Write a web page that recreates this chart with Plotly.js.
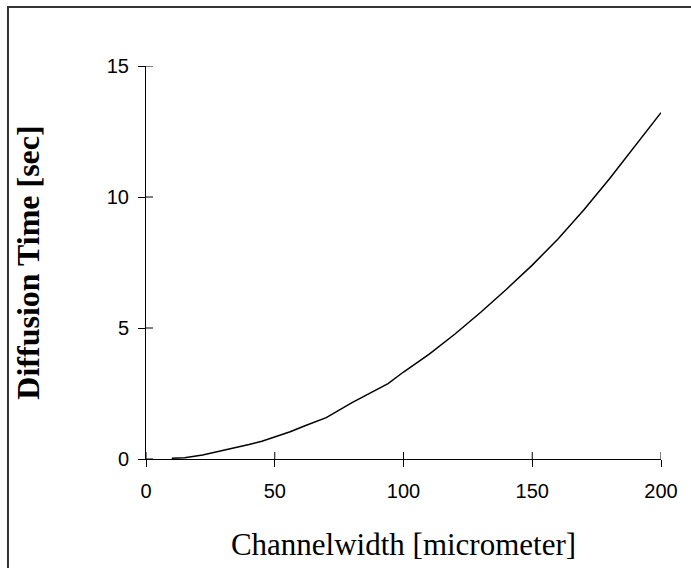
<!DOCTYPE html>
<html>
<head>
<meta charset="utf-8">
<script src="https://cdn.plot.ly/plotly-3.0.1.min.js"></script>
<style>
  html, body { margin: 0; padding: 0; background: #fff; }
  #chart { width: 691px; height: 568px; }
</style>
</head>
<body>
<div id="chart"></div>
<script>
// Channel width (micrometer) and the corresponding diffusion time (sec)
const channelWidth = [10, 15, 22, 30, 40, 45, 56, 62, 70, 80, 94, 100, 110, 120, 130, 140, 150, 160, 170, 180, 190, 200];
const diffusionTime = [0.03, 0.05, 0.15, 0.32, 0.55, 0.68, 1.04, 1.28, 1.58, 2.15, 2.88, 3.32, 4.0, 4.77, 5.6, 6.48, 7.4, 8.4, 9.5, 10.7, 11.97, 13.22];

const xTicks = [0, 50, 100, 150, 200];
const yTicks = [0, 5, 10, 15];

const TICK_LEN = 7;

const trace = {
  x: channelWidth,
  y: diffusionTime,
  type: 'scatter',
  mode: 'lines',
  line: { color: '#000', width: 1.5 },
  hoverinfo: 'skip'
};

const tickFont = { family: 'Liberation Sans, Arial, sans-serif', size: 20, color: '#000' };

// inner halves of the crossing tick marks, placed through the axis scales
const innerTickStyle = { color: '#000', width: 1 };
const innerXTicks = xTicks.map(v => ({
  type: 'line', xref: 'x', yref: 'y',
  x0: v, x1: v,
  ysizemode: 'pixel', yanchor: 0, y0: 0, y1: TICK_LEN,
  line: innerTickStyle
}));
const innerYTicks = yTicks.map(v => ({
  type: 'line', xref: 'x', yref: 'y',
  y0: v, y1: v,
  xsizemode: 'pixel', xanchor: 0, x0: 0, x1: TICK_LEN,
  line: innerTickStyle
}));

// page frame on the left and top edges
const frame = {
  type: 'rect',
  xref: 'paper', yref: 'paper',
  x0: -0.268, x1: 1.3,
  y0: -0.6, y1: 1.150,
  line: { color: '#333', width: 2 },
  fillcolor: 'rgba(0,0,0,0)',
  layer: 'below'
};

const layout = {
  width: 691,
  height: 568,
  margin: { l: 146, r: 30, t: 66, b: 109 },
  paper_bgcolor: '#fff',
  plot_bgcolor: '#fff',
  showlegend: false,
  xaxis: {
    range: [0, 200],
    tickvals: xTicks,
    ticktext: xTicks.map(String),
    ticks: 'outside',
    ticklen: TICK_LEN,
    tickwidth: 1,
    tickcolor: '#000',
    showline: true,
    linecolor: '#000',
    linewidth: 1,
    showgrid: false,
    zeroline: false,
    tickfont: tickFont,
    ticklabelstandoff: 7,
    title: {
      text: 'Channelwidth [micrometer]',
      font: { family: 'Liberation Serif, Times New Roman, serif', size: 31, color: '#000' },
      standoff: 32
    }
  },
  yaxis: {
    range: [0, 15],
    tickvals: yTicks,
    ticktext: yTicks.map(String),
    ticks: 'outside',
    ticklen: TICK_LEN,
    tickwidth: 1,
    tickcolor: '#000',
    showline: true,
    linecolor: '#000',
    linewidth: 1,
    showgrid: false,
    zeroline: false,
    tickfont: tickFont,
    ticklabelstandoff: 5,
    title: {
      text: '<b>Diffusion Time [sec]</b>',
      font: { family: 'Liberation Serif, Times New Roman, serif', size: 32, color: '#000' },
      standoff: 57
    }
  },
  shapes: [frame, ...innerXTicks, ...innerYTicks]
};

Plotly.newPlot('chart', [trace], layout, { staticPlot: true });
</script>
</body>
</html>
